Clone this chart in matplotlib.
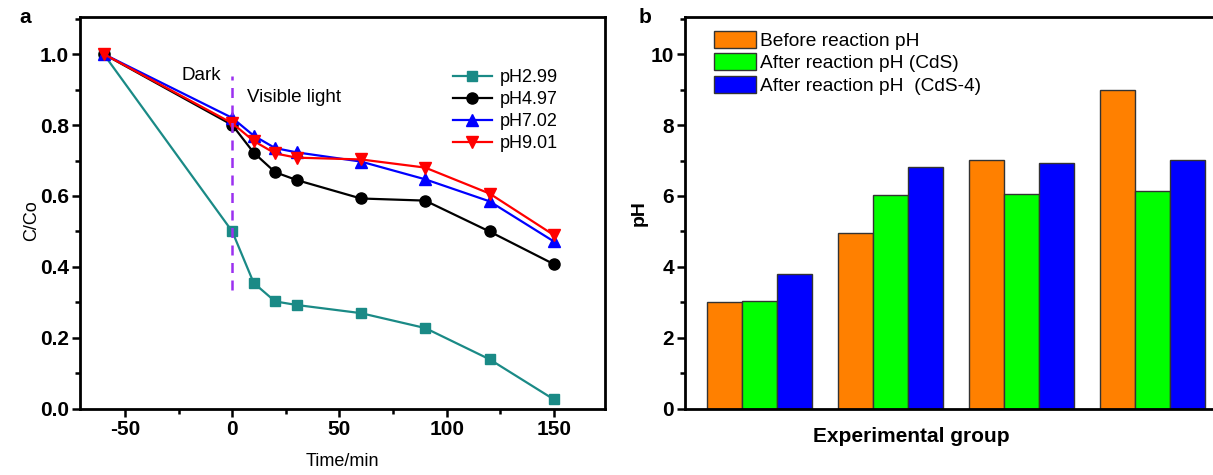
import matplotlib
matplotlib.use("Agg")
import matplotlib.pyplot as plt
from matplotlib.ticker import MultipleLocator
import numpy as np

plt.rcParams["font.family"] = ["Liberation Sans", "DejaVu Sans"]
plt.rcParams["axes.unicode_minus"] = False

# Panel a data: C/Co vs time at different pH
time_min = [-60, 0, 10, 20, 30, 60, 90, 120, 150]
ph299 = [1.0, 0.50, 0.355, 0.303, 0.293, 0.270, 0.228, 0.140, 0.027]
ph497 = [1.0, 0.800, 0.722, 0.667, 0.645, 0.593, 0.587, 0.500, 0.408]
ph702 = [1.0, 0.820, 0.770, 0.735, 0.723, 0.697, 0.647, 0.585, 0.472]
ph901 = [1.0, 0.805, 0.755, 0.720, 0.708, 0.703, 0.680, 0.607, 0.490]

# Panel b data: pH before / after reaction
before_ph = [3.00, 4.97, 7.02, 9.00]
after_cds = [3.03, 6.02, 6.05, 6.15]
after_cds4 = [3.80, 6.83, 6.93, 7.02]

teal = "#1a8a86"
purple = "#9b30f0"

fig = plt.figure(figsize=(12.13, 4.75), dpi=100)

# ---------- panel a ----------
ax = fig.add_axes([0.066, 0.139, 0.433, 0.825])
ax.plot(time_min, ph299, color=teal, marker="s", ms=7, lw=1.6, label="pH2.99")
ax.plot(time_min, ph497, color="black", marker="o", ms=8, lw=1.6, label="pH4.97")
ax.plot(time_min, ph702, color="blue", marker="^", ms=8, lw=1.6, label="pH7.02")
ax.plot(time_min, ph901, color="red", marker="v", ms=8, lw=1.6, label="pH9.01")
ax.plot([0, 0], [0.335, 0.938], color=purple, ls=(0, (4, 3)), lw=1.8)

ax.text(-14.5, 0.94, "Dark", fontsize=13.5, ha="center", va="center")
ax.text(7, 0.878, "Visible light", fontsize=13.5, ha="left", va="center")

ax.set_xlim(-71, 174)
ax.set_ylim(0, 1.104)
ax.xaxis.set_major_locator(MultipleLocator(50))
ax.xaxis.set_minor_locator(MultipleLocator(25))
ax.yaxis.set_major_locator(MultipleLocator(0.2))
ax.yaxis.set_minor_locator(MultipleLocator(0.1))
ax.yaxis.set_major_formatter(lambda v, pos: f"{v:.1f}")
ax.set_xlabel("Time/min", fontsize=13, labelpad=10)
ax.set_ylabel("C/Co", fontsize=13)
ax.yaxis.set_label_coords(-0.076, 0.48)
ax.legend(loc="upper left", bbox_to_anchor=(0.692, 0.89), frameon=False,
          fontsize=13, handlelength=2.2, handletextpad=0.4,
          labelspacing=0.27, borderpad=0)
ax.text(-0.105, 1.0, "a", transform=ax.transAxes, fontsize=15,
        fontweight="bold", ha="center", va="center")

# ---------- panel b ----------
bx = fig.add_axes([0.5647, 0.139, 0.4353, 0.825])
groups = np.arange(len(before_ph))
w = 0.267
bx.bar(groups - w, before_ph, w, color="#ff8000", edgecolor="#333333", lw=1,
       label="Before reaction pH")
bx.bar(groups, after_cds, w, color="#00ff00", edgecolor="#333333", lw=1,
       label="After reaction pH (CdS)")
bx.bar(groups + w, after_cds4, w, color="#0000ff", edgecolor="#333333", lw=1,
       label="After reaction pH  (CdS-4)")
bx.set_xlim(-0.565, 3.46)
bx.set_ylim(0, 11.04)
bx.set_xticks([])
bx.yaxis.set_major_locator(MultipleLocator(2))
bx.yaxis.set_minor_locator(MultipleLocator(1))
bx.set_xlabel("Experimental group", fontsize=15, fontweight="bold")
bx.xaxis.set_label_coords(0.428, -0.045)
bx.set_ylabel("pH", fontsize=14, fontweight="bold", labelpad=2)
bx.legend(loc="upper left", bbox_to_anchor=(0.037, 0.99), frameon=False,
          fontsize=13.8, handlelength=2.2, handleheight=1.0, handletextpad=0.2,
          labelspacing=0.18, borderpad=0)
bx.text(-0.075, 1.0, "b", transform=bx.transAxes, fontsize=15,
        fontweight="bold", ha="center", va="center")
bx.spines["right"].set_visible(False)

for a in (ax, bx):
    for s in a.spines.values():
        s.set_linewidth(2)
    a.tick_params(which="both", direction="out", width=1.8, top=False, right=False)
    a.tick_params(which="major", length=6, labelsize=15, pad=2)
    a.tick_params(which="minor", length=3.5)
    for lab in a.get_xticklabels() + a.get_yticklabels():
        lab.set_fontweight("bold")

fig.savefig("out.png", dpi=100)
